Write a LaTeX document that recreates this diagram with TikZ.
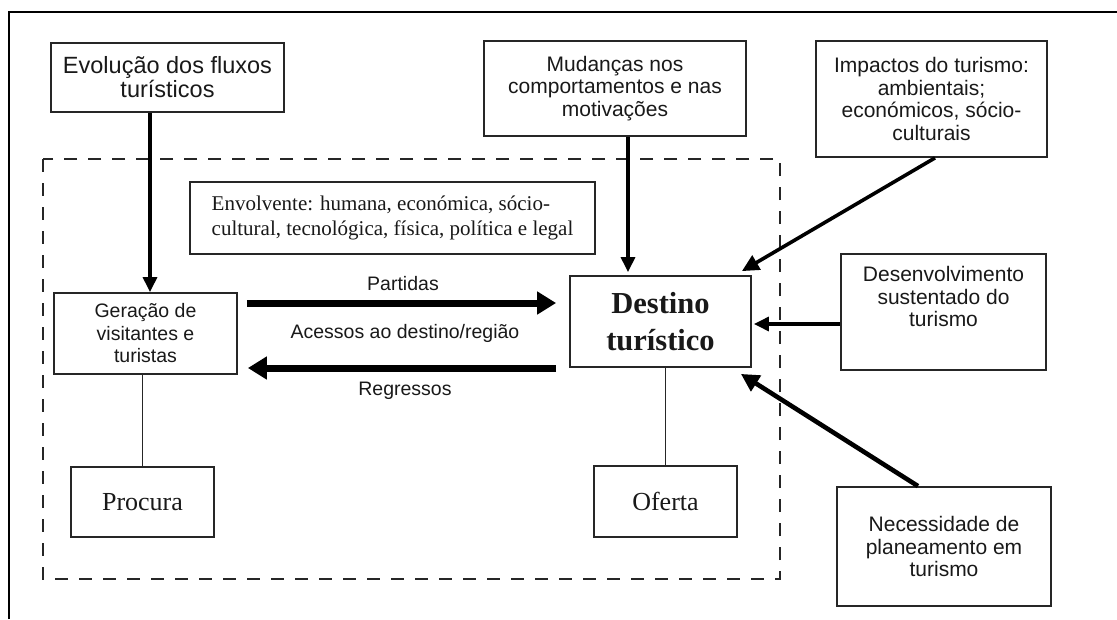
\documentclass[tikz,border=0pt]{standalone}
\usepackage{fontspec}
\setmainfont{Liberation Serif}
\newfontfamily\arialf{Liberation Sans}
\usetikzlibrary{arrows.meta}
\begin{document}
\begin{tikzpicture}[x=1pt,y=-1pt,
  box/.style={draw=black!85, line width=1.8pt, inner sep=0pt, align=center, text=black!90},
  sansbox/.style={box, font=\arialf\fontsize{21}{22.7}\selectfont},
  lbl/.style={inner sep=0pt, text=black!90, font=\arialf\fontsize{19.5}{22}\selectfont},
  arr/.style={draw=black, line width=3.2pt, -{Triangle[length=15pt,width=14pt]}},
  bigarr/.style={draw=black, line width=7pt, -{Triangle[length=19pt,width=22pt]}},
  link/.style={draw=black!85, line width=1.6pt},
  dashbox/.style={draw=black!85, line width=1.6pt, dash pattern=on 13pt off 11pt}
]
\useasboundingbox[fill=white] (0,0) rectangle (1117,619);
% outer frame (cropped)
\draw[line width=2.4pt, black] (9,619) -- (9,12) -- (1117,12);
% dashed environment
\draw[dashbox] (43,159) rectangle (780,579);

% boxes
\node[box, font=\arialf\fontsize{23.5}{24}\selectfont, minimum width=233pt, minimum height=69pt] (evol) at (167.5,77.5) {Evolução dos fluxos\\turísticos};
\node[sansbox, minimum width=262pt, minimum height=95pt] (mud) at (615,88.5) {Mudanças nos\\comportamentos e nas\\motivações};
\node[sansbox, minimum width=231pt, minimum height=116pt] (imp) at (931.5,99) {Impactos do turismo:\\ambientais;\\económicos, sócio-\\culturais};
\node[box, align=left, font=\fontsize{21}{25}\selectfont, minimum width=405pt, minimum height=72pt] (env) at (392.5,218) {Envolvente: humana, económica, sócio-\\cultural, tecnológica, física, política e legal};
\node[box, font=\arialf\fontsize{19.5}{22.5}\selectfont, minimum width=183pt, minimum height=81pt] (ger) at (145.5,333.5) {Geração de\\visitantes e\\turistas};
\node[box, font=\bfseries\fontsize{30.5}{37}\selectfont, minimum width=181pt, minimum height=91pt] (dest) at (660.5,321.5) {Destino\\turístico};
\node[sansbox, minimum width=205pt, minimum height=116pt] (desv) at (943.5,312) {Desenvolvimento\\sustentado do\\turismo\\[8pt]};
\node[box, font=\fontsize{26}{30}\selectfont, minimum width=143pt, minimum height=70pt] (proc) at (142.5,502) {Procura};
\node[box, font=\fontsize{26}{30}\selectfont, minimum width=143pt, minimum height=71pt] (ofer) at (665.5,501.5) {Oferta};
\node[sansbox, minimum width=214pt, minimum height=119pt] (nec) at (944,546.5) {Necessidade de\\planeamento em\\turismo};

% labels on the flows
\node[lbl] (lpart) at (403,284) {Partidas};
\node[lbl] (lacc) at (405,333) {Acessos ao destino/região};
\node[lbl] (lreg) at (405,391) {Regressos};

% connectors
\draw[arr] ([xshift=-17.5pt]evol.south) -- ([xshift=4.5pt]ger.north);
\draw[arr] ([xshift=13pt]mud.south) -- ([xshift=-32.5pt,yshift=3pt]dest.north);
\draw[arr, line width=3.6pt, -{Triangle[length=17pt,width=16pt]}] ([xshift=3.5pt]imp.south) -- ([xshift=-10pt,yshift=4pt]dest.north east);
\draw[arr] ([yshift=-12pt]desv.west) -- ([xshift=2pt,yshift=-2.5pt]dest.east);
\draw[arr, line width=4.6pt, -{Triangle[length=18pt,width=18pt]}] ([xshift=-26pt]nec.north) -- ([xshift=-11pt,yshift=-6pt]dest.south east);
\draw[bigarr] ([xshift=9pt,yshift=30.5pt]ger.east) -- ([xshift=-13pt,yshift=18.5pt]dest.west);
\draw[bigarr] ([xshift=-13pt,yshift=-46.5pt]dest.west) -- ([xshift=10pt,yshift=-34.5pt]ger.east);
\draw[link] (ger.south -| proc.north) -- (proc.north);
\draw[link] (dest.south -| ofer.north) -- (ofer.north);
\end{tikzpicture}
\end{document}
